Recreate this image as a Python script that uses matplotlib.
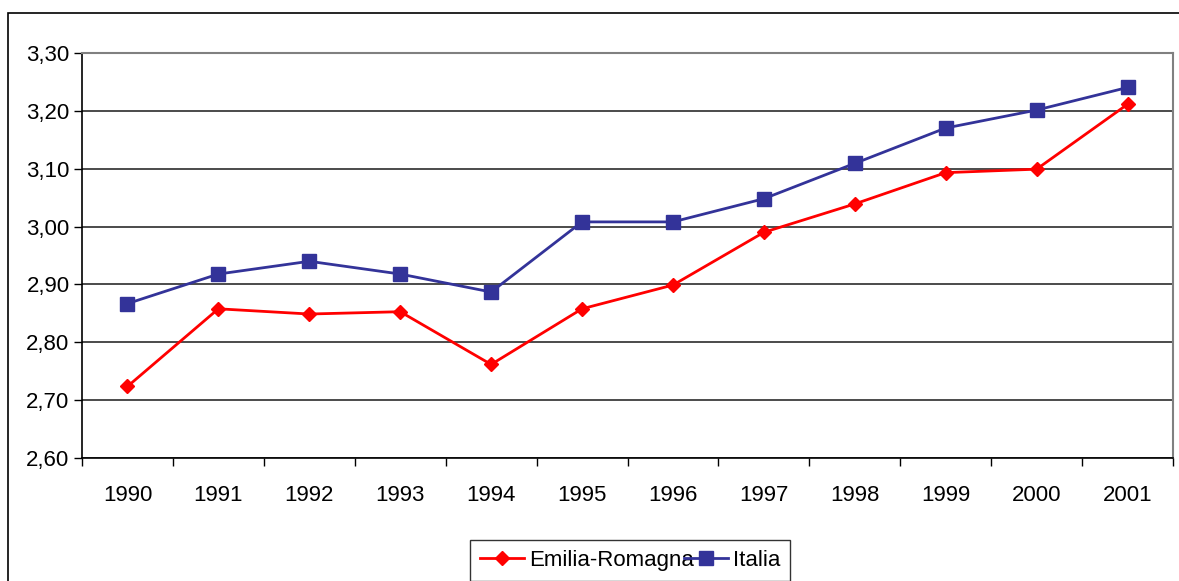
import numpy as np
import matplotlib
matplotlib.use("Agg")
import matplotlib.pyplot as plt
from matplotlib.patches import Rectangle
from matplotlib.ticker import FixedLocator, FuncFormatter

# Data
years = ["1990", "1991", "1992", "1993", "1994", "1995",
         "1996", "1997", "1998", "1999", "2000", "2001"]
emilia = [2.724, 2.858, 2.849, 2.853, 2.762, 2.858,
          2.899, 2.990, 3.039, 3.093, 3.099, 3.211]
italia = [2.867, 2.918, 2.940, 2.918, 2.887, 3.008,
          3.008, 3.048, 3.109, 3.170, 3.201, 3.240]
y_ticks = [2.60, 2.70, 2.80, 2.90, 3.00, 3.10, 3.20, 3.30]

plt.rcParams["font.family"] = ["Liberation Sans", "DejaVu Sans"]
FS = 16

W, H = 1179, 581
fig = plt.figure(figsize=(W / 100, H / 100), dpi=100)

# outer chart frame (runs off the right and bottom edge)
fig.patches.append(Rectangle((8 / W, -0.1), 1.2, (H - 13) / H + 0.1,
                             transform=fig.transFigure, fill=False,
                             edgecolor="black", linewidth=1.2))

left, right, top, bottom = 82, 1173, 52.7, 458.3
ax = fig.add_axes([left / W, (H - bottom) / H, (right - left) / W, (bottom - top) / H])

x = np.arange(len(years))
ax.plot(x, emilia, color="#FF0000", linewidth=2, marker="D", markersize=7.5,
        label="Emilia-Romagna", zorder=3)
ax.plot(x, italia, color="#333399", linewidth=2, marker="s", markersize=10,
        label="Italia", zorder=4)

ax.set_xlim(-0.5, len(years) - 0.5)
ax.set_ylim(2.60, 3.30)

ax.set_yticks(y_ticks)
ax.yaxis.set_major_formatter(FuncFormatter(lambda v, p: f"{v:.2f}".replace(".", ",")))
ax.yaxis.grid(True, color="#1a1a1a", linewidth=1.1)
ax.set_axisbelow(True)

ax.set_xticks(x)
ax.set_xticklabels(years)
ax.xaxis.set_minor_locator(FixedLocator(np.arange(-0.5, len(years), 1.0)))
ax.tick_params(axis="x", which="major", length=0, pad=19, labelsize=FS)
ax.tick_params(axis="x", which="minor", length=6, width=1, direction="out")
ax.tick_params(axis="y", length=6, width=1, direction="out", pad=3, labelsize=FS)

for s in ["left", "bottom"]:
    ax.spines[s].set_color("black")
    ax.spines[s].set_linewidth(1.2)
for s in ["top", "right"]:
    ax.spines[s].set_color("#808080")
    ax.spines[s].set_linewidth(1.5)

leg = fig.legend(loc="lower left", bbox_to_anchor=(470 / W, 0.0),
                 ncol=2, fontsize=FS, frameon=True, fancybox=False,
                 handlelength=2.0, handletextpad=0.2, columnspacing=-0.45,
                 borderpad=0.45, borderaxespad=0)
leg.get_frame().set_edgecolor("black")
leg.get_frame().set_linewidth(1.0)

fig.savefig("out.png", dpi=100)
